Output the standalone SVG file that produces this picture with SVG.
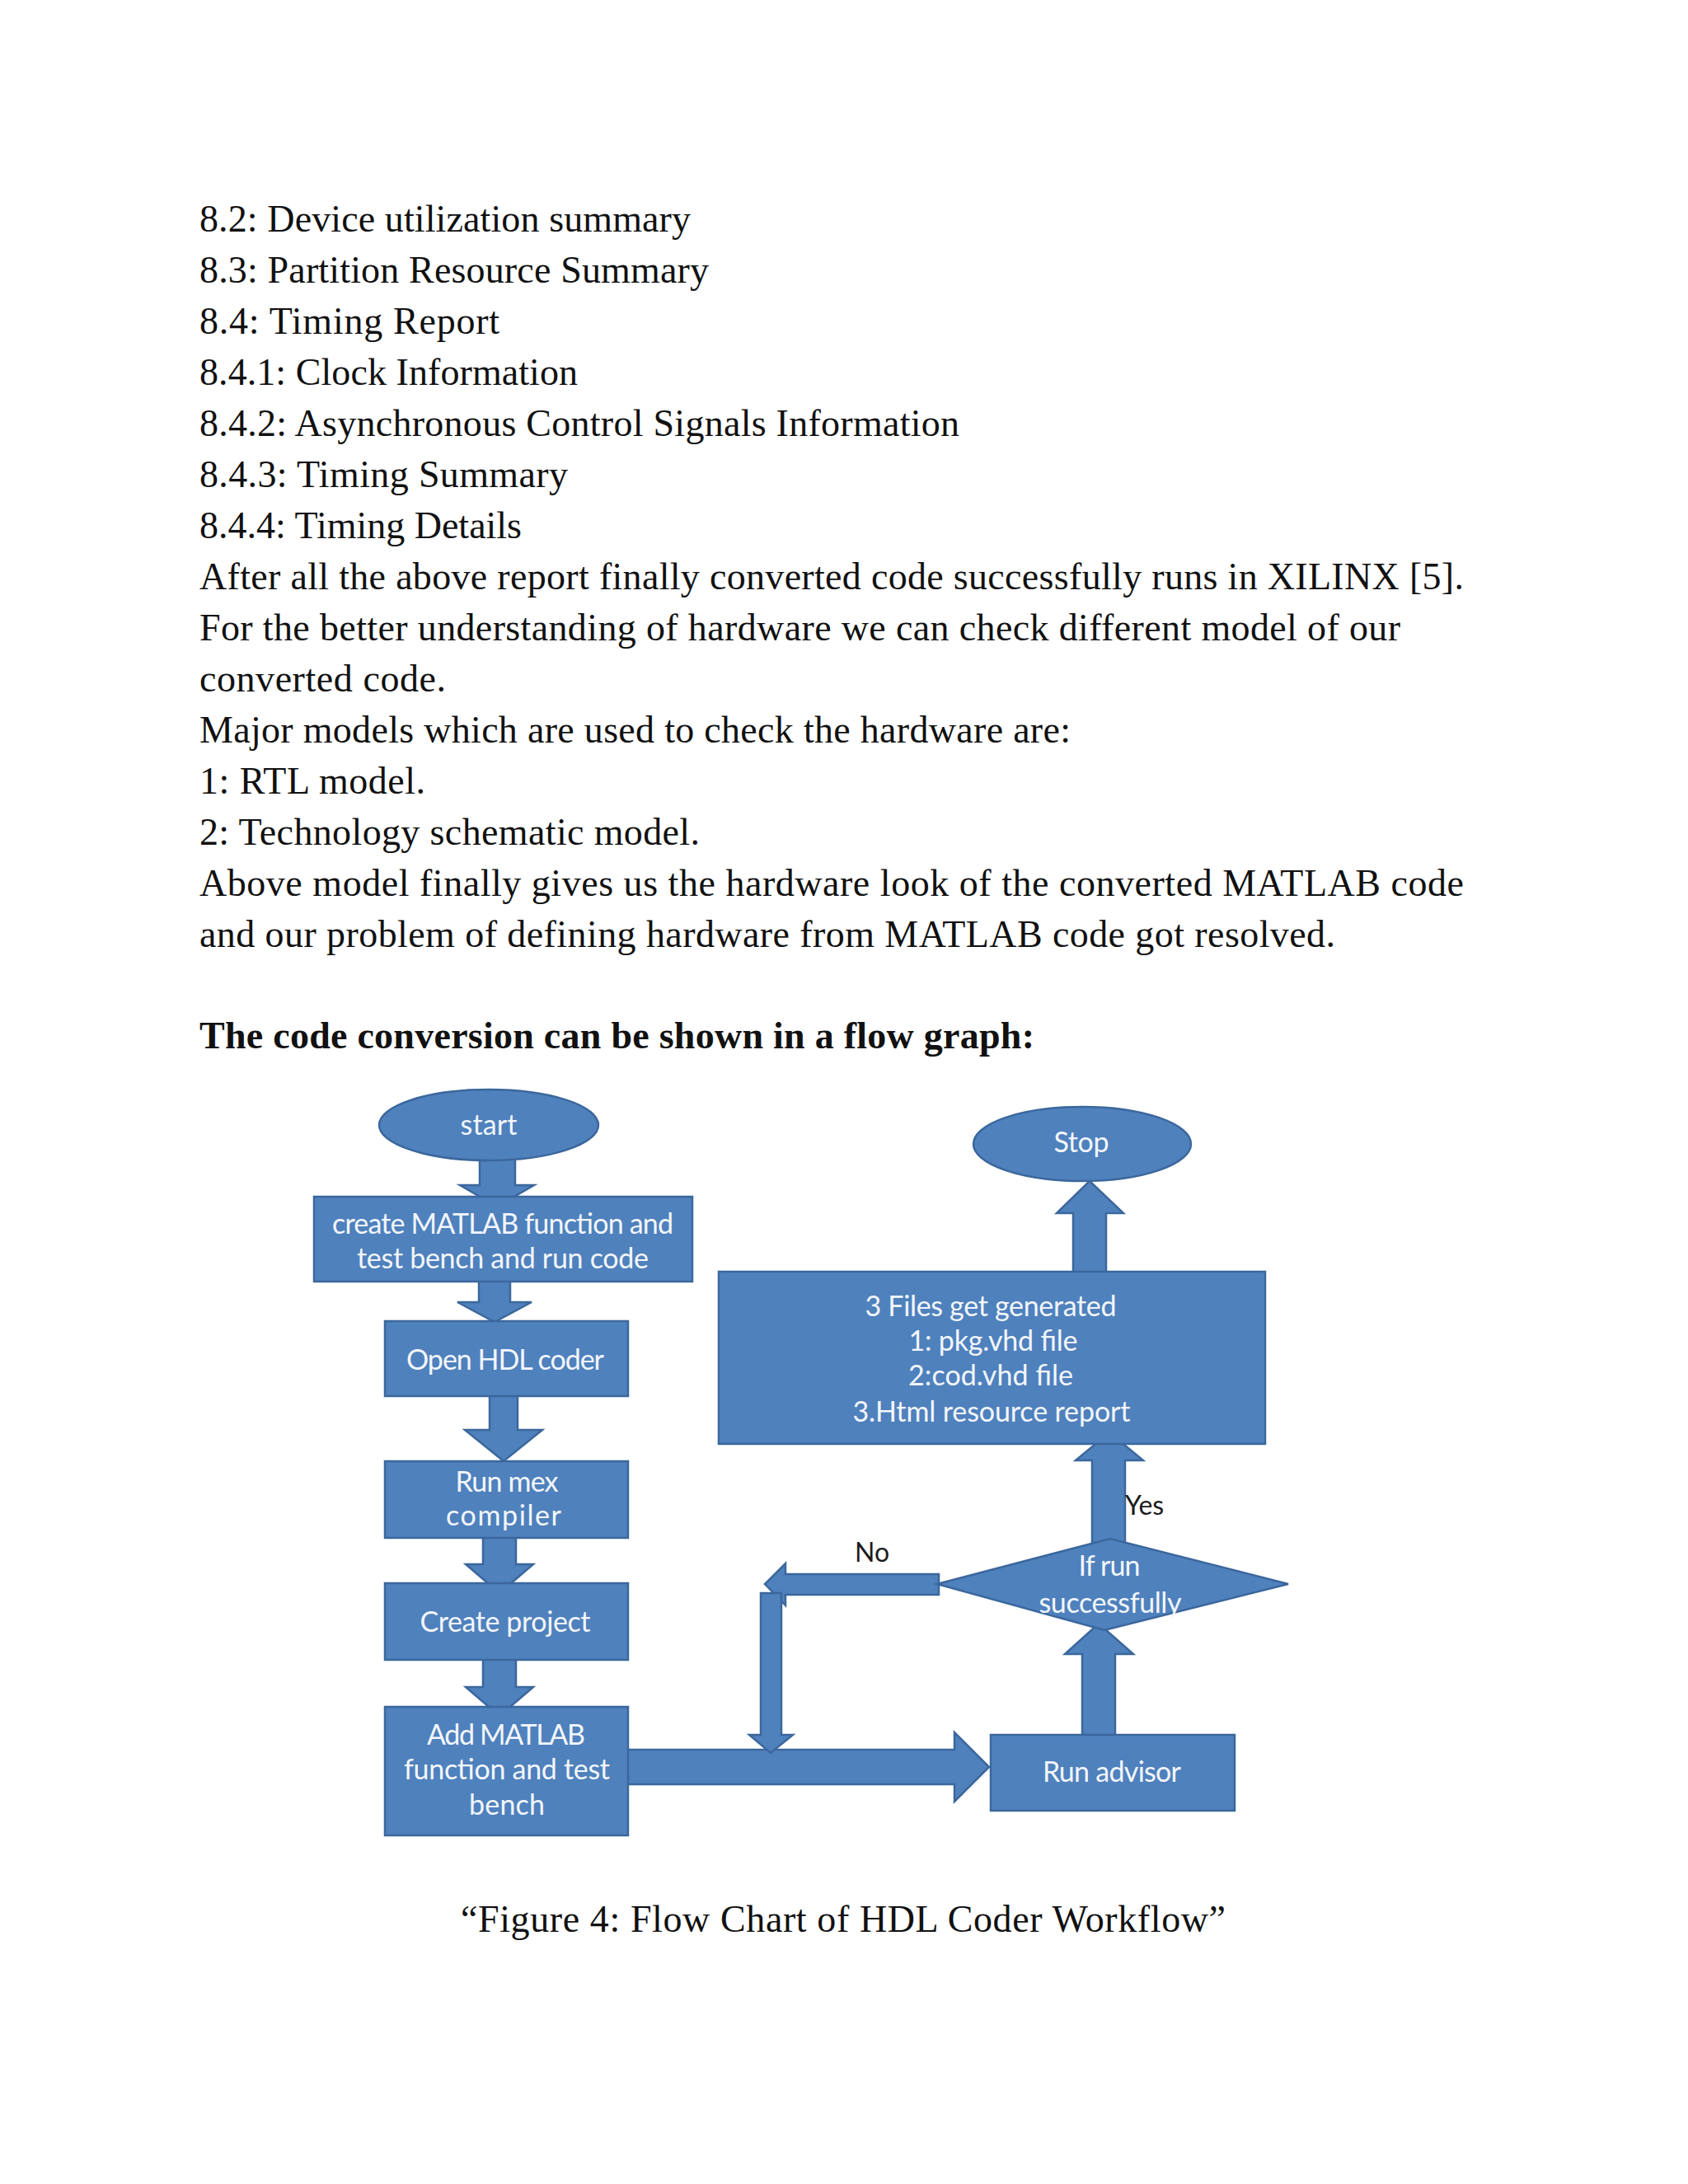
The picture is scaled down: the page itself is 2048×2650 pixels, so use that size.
<svg xmlns="http://www.w3.org/2000/svg" width="2048" height="2650" viewBox="0 0 2048 2650">
<style>
.body{font-family:"Liberation Serif","Times New Roman",serif;font-size:46px;fill:#111;}
.head{font-family:"Liberation Serif","Times New Roman",serif;font-size:46px;font-weight:bold;fill:#111;}
.shape{fill:#4f81bd;stroke:#3b679c;stroke-width:2.5;}
.arrow{fill:#4f81bd;stroke:#3b679c;stroke-width:2.5;stroke-linejoin:miter;}
.lbl{font-family:Lato,"Open Sans",sans-serif;font-size:34px;fill:#f3f6fb;text-anchor:middle;}
.edge{font-family:Lato,"Open Sans",sans-serif;font-size:32px;fill:#1c1c1c;}
</style>
<rect width="2048" height="2650" fill="#ffffff"/>

<g id="page-text">
<text class="body" x="242" y="281" textLength="596" lengthAdjust="spacing">8.2: Device utilization summary</text>
<text class="body" x="242" y="343" textLength="618" lengthAdjust="spacing">8.3: Partition Resource Summary</text>
<text class="body" x="242" y="405" textLength="364" lengthAdjust="spacing">8.4: Timing Report</text>
<text class="body" x="242" y="467" textLength="459" lengthAdjust="spacing">8.4.1: Clock Information</text>
<text class="body" x="242" y="529" textLength="922" lengthAdjust="spacing">8.4.2: Asynchronous Control Signals Information</text>
<text class="body" x="242" y="591" textLength="447" lengthAdjust="spacing">8.4.3: Timing Summary</text>
<text class="body" x="242" y="653" textLength="391" lengthAdjust="spacing">8.4.4: Timing Details</text>
<text class="body" x="242" y="715" textLength="1534" lengthAdjust="spacing">After all the above report finally converted code successfully runs in XILINX [5].</text>
<text class="body" x="242" y="777" textLength="1457" lengthAdjust="spacing">For the better understanding of hardware we can check different model of our</text>
<text class="body" x="242" y="839" textLength="299" lengthAdjust="spacing">converted code.</text>
<text class="body" x="242" y="901" textLength="1057" lengthAdjust="spacing">Major models which are used to check the hardware are:</text>
<text class="body" x="242" y="963" textLength="274" lengthAdjust="spacing">1: RTL model.</text>
<text class="body" x="242" y="1025" textLength="607" lengthAdjust="spacing">2: Technology schematic model.</text>
<text class="body" x="242" y="1087" textLength="1534" lengthAdjust="spacing">Above model finally gives us the hardware look of the converted MATLAB code</text>
<text class="body" x="242" y="1149" textLength="1378" lengthAdjust="spacing">and our problem of defining hardware from MATLAB code got resolved.</text>
<text class="head" x="242" y="1272" textLength="1013" lengthAdjust="spacing">The code conversion can be shown in a flow graph:</text>
<text class="body" x="559" y="2344" textLength="928" lengthAdjust="spacing">“Figure 4: Flow Chart of HDL Coder Workflow”</text>
</g>

<g id="connectors">
<!-- start -> create -->
<path class="arrow" d="M582,1395 L625,1395 L625,1438 L648,1438 L603,1464 L558,1438 L582,1438 Z"/>
<!-- create -> Open HDL -->
<path class="arrow" d="M581,1552 L619,1552 L619,1580 L645,1580 L600,1604 L555,1580 L581,1580 Z"/>
<!-- Open HDL -> Run mex -->
<path class="arrow" d="M594,1692 L628,1692 L628,1735 L658,1735 L611,1773 L564,1735 L594,1735 Z"/>
<!-- Run mex -> Create project -->
<path class="arrow" d="M586,1864 L626,1864 L626,1898 L647,1898 L606,1933 L565,1898 L586,1898 Z"/>
<!-- Create project -> Add MATLAB -->
<path class="arrow" d="M586,2012 L626,2012 L626,2047 L647,2047 L606,2082 L565,2047 L586,2047 Z"/>
<!-- Add MATLAB -> Run advisor -->
<path class="arrow" d="M760,2123 L1158,2123 L1158,2102 L1200,2144 L1158,2186 L1158,2165 L760,2165 Z"/>
<!-- Run advisor -> decision -->
<path class="arrow" d="M1313,2107 L1313,2007 L1292,2007 L1333,1970 L1375,2007 L1353,2007 L1353,2107 Z"/>
<!-- decision -> 3 Files (Yes) -->
<path class="arrow" d="M1325,1872 L1325,1772 L1305,1772 L1346,1738 L1387,1772 L1365,1772 L1365,1872 Z"/>
<!-- 3 Files -> Stop -->
<path class="arrow" d="M1302,1545 L1302,1472 L1282,1472 L1322,1433 L1363,1472 L1342,1472 L1342,1545 Z"/>
<!-- decision -> No (left) -->
<path class="arrow" d="M1139,1910 L953,1910 L953,1897 L928,1922 L953,1948 L953,1935 L1139,1935 Z"/>
<!-- No -> down to main line -->
<path class="arrow" d="M923,1933 L948,1933 L948,2105 L962,2105 L935,2127 L909,2105 L923,2105 Z"/>
<text class="edge" x="1365" y="1838" font-size="31">Yes</text>
<text class="edge" x="1037" y="1895">No</text>
</g>

<g id="node-start">
<ellipse class="shape" cx="593" cy="1365" rx="133" ry="43"/>
<text class="lbl" x="593" y="1377" textLength="69" lengthAdjust="spacing">start</text>
</g>

<g id="node-create">
<rect class="shape" x="381" y="1452" width="459" height="103"/>
<text class="lbl" x="610" y="1497" textLength="414" lengthAdjust="spacing">create MATLAB function and</text>
<text class="lbl" x="610" y="1539" textLength="354" lengthAdjust="spacing">test bench and run code</text>
</g>

<g id="node-openhdl">
<rect class="shape" x="467" y="1603" width="295" height="91"/>
<text class="lbl" x="613" y="1662" textLength="240" lengthAdjust="spacing">Open HDL coder</text>
</g>

<g id="node-runmex">
<rect class="shape" x="467" y="1773" width="295" height="93"/>
<text class="lbl" x="615" y="1810" textLength="125" lengthAdjust="spacing">Run mex</text>
<text class="lbl" x="611" y="1851" textLength="140" lengthAdjust="spacing">compiler</text>
</g>

<g id="node-createproject">
<rect class="shape" x="467" y="1921" width="295" height="93"/>
<text class="lbl" x="613" y="1980" textLength="207" lengthAdjust="spacing">Create project</text>
</g>

<g id="node-addmatlab">
<rect class="shape" x="467" y="2071" width="295" height="156"/>
<text class="lbl" x="614" y="2117" textLength="192" lengthAdjust="spacing">Add MATLAB</text>
<text class="lbl" x="615" y="2159" textLength="250" lengthAdjust="spacing">function and test</text>
<text class="lbl" x="615" y="2202" textLength="92" lengthAdjust="spacing">bench</text>
</g>

<g id="node-runadvisor">
<rect class="shape" x="1202" y="2105" width="296" height="92"/>
<text class="lbl" x="1349" y="2162" textLength="168" lengthAdjust="spacing">Run advisor</text>
</g>

<g id="node-decision">
<path class="shape" d="M1137,1922 L1347,1867 L1563,1922 L1340,1978 Z"/>
<text class="lbl" x="1346" y="1912" textLength="75" lengthAdjust="spacing">If run</text>
<text class="lbl" x="1347" y="1957" textLength="173" lengthAdjust="spacing">successfully</text>
</g>

<g id="node-files">
<rect class="shape" x="872" y="1543" width="663" height="209"/>
<text class="lbl" x="1202" y="1597" textLength="305" lengthAdjust="spacing">3 Files get generated</text>
<text class="lbl" x="1205" y="1639" textLength="205" lengthAdjust="spacing">1: pkg.vhd file</text>
<text class="lbl" x="1202" y="1681" textLength="200" lengthAdjust="spacing">2:cod.vhd file</text>
<text class="lbl" x="1203" y="1725" textLength="337" lengthAdjust="spacing">3.Html resource report</text>
</g>

<g id="node-stop">
<ellipse class="shape" cx="1313" cy="1388" rx="132" ry="45"/>
<text class="lbl" x="1312" y="1398" textLength="67" lengthAdjust="spacing">Stop</text>
</g>
</svg>
